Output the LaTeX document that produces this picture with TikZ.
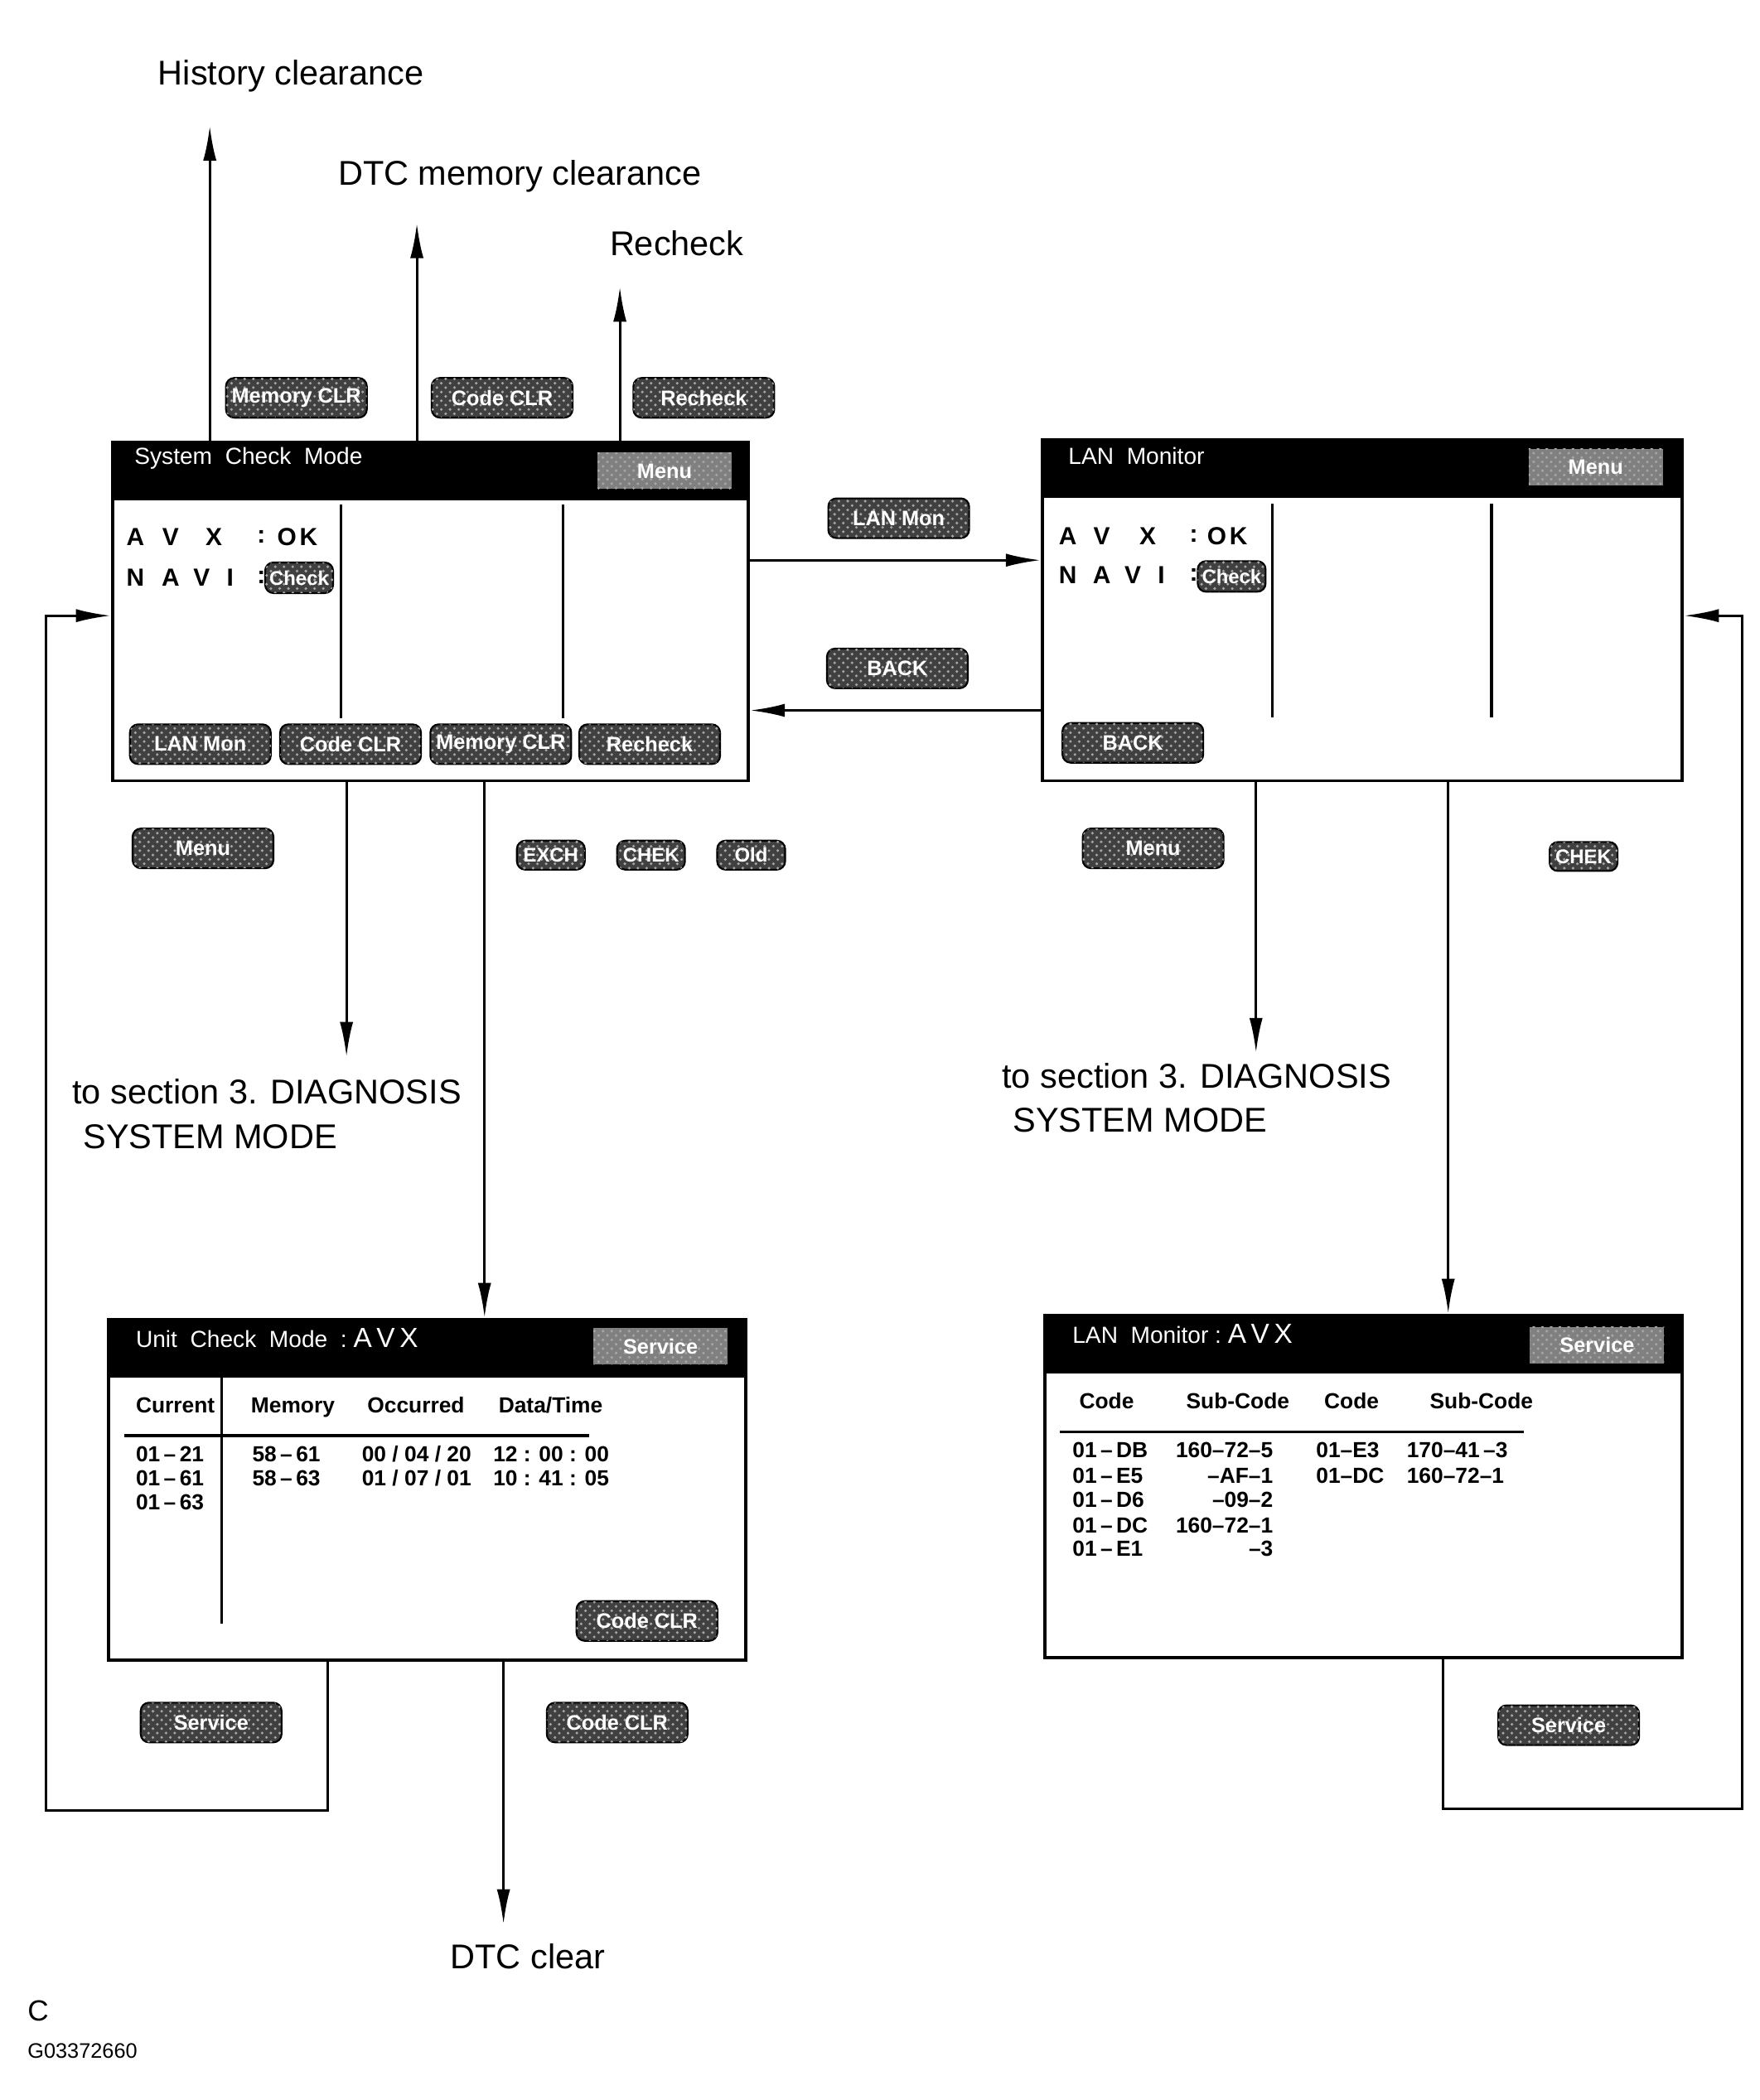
\documentclass[tikz,border=0pt]{standalone}
\usepackage{fontspec}
\setmainfont{Liberation Sans}
\usetikzlibrary{arrows.meta,fit,patterns}

\tikzset{
  screen/.style={draw, line width=1.1pt, inner sep=0pt},
  header/.style={fill=black, inner sep=0pt},
  btn/.style={draw, line width=0.6pt, rounded corners=1mm, fill=black!75,
    postaction={pattern=crosshatch dots, pattern color=black!35},
    text=white, font=\fontsize{7.2}{8}\selectfont\bfseries,
    minimum width=17mm, minimum height=4.8mm, inner sep=0pt},
  smallbtn/.style={btn, minimum width=8.2mm, minimum height=3.5mm,
    font=\fontsize{6.8}{8}\selectfont\bfseries},
  hdrbtn/.style={btn, rounded corners=0pt, draw=none, fill=black!50,
    minimum width=16.2mm, minimum height=4.4mm},
  bigtext/.style={font=\fontsize{11.8}{14}\selectfont, inner sep=0pt},
  title/.style={text=white, font=\fontsize{8}{9}\selectfont, inner sep=0pt, anchor=west},
  scrletter/.style={font=\fontsize{8.5}{10}\selectfont\bfseries, inner sep=0pt},
  tabtext/.style={font=\fontsize{7.5}{9}\selectfont\bfseries, inner sep=0pt, anchor=base west},
  arr/.style={line width=0.9pt, -{Latex[length=4.2mm,width=1.6mm]}},
  rule/.style={line width=0.9pt},
}

\begin{document}
\begin{tikzpicture}[x=0.1633mm, y=-0.1633mm]
            \useasboundingbox (0,0) rectangle (1300,1552);

            % System Check Mode screen
            \node[screen, fit={(83,327) (553,577)}] (scm) {};
            \node[header, fit={(83,327) (553,370)}] (scmhead) {};
            \node[title] (scmtitle) at (99,339) {System\ \ Check\ \ Mode};
            \node[hdrbtn] (scmmenu) at (491,348) {Menu};
            \draw[rule] (252,373) -- (252,531);
            \draw[rule] (416,373) -- (416,531);
            \foreach \ch/\x in {A/100,V/126,X/158,:/193,O/212,K/228}
                \node[scrletter] (scmavx\x) at (\x,397) {\ch};
            \foreach \ch/\x in {N/100,A/126,V/149,I/170,:/193}
                \node[scrletter] (scmnavi\x) at (\x,427) {\ch};
            \node[smallbtn, minimum height=3.7mm] (scmcheck) at (221,427) {Check};
            \node[btn] (scmlan) at (148,550) {LAN Mon};
            \node[btn] (scmcode) at (259,550) {Code CLR};
            \node[btn] (scmmem) at (370,550) {Memory CLR};
            \node[btn] (scmre) at (480,550) {Recheck};

            % LAN Monitor screen
            \node[screen, fit={(770,325) (1243,577)}] (lan) {};
            \node[header, fit={(770,325) (1243,368)}] (lanhead) {};
            \node[title] (lantitle) at (789,337) {LAN\ \ Monitor};
            \node[hdrbtn] (lanmenu) at (1179,345) {Menu};
            \draw[rule] (940,372) -- (940,530);
            \draw[rule] (1102,372) -- (1102,530);
            \foreach \ch/\x in {A/789,V/814,X/848,:/882,O/899,K/915}
                \node[scrletter] (lanavx\x) at (\x,396) {\ch};
            \foreach \ch/\x in {N/789,A/814,V/837,I/858,:/882}
                \node[scrletter] (lannavi\x) at (\x,425) {\ch};
            \node[smallbtn, minimum height=3.7mm] (lancheck) at (910,426) {Check};
            \node[btn] (lanback) at (837,549) {BACK};

            % Unit Check Mode screen
            \node[screen, fit={(80,975) (551,1227)}] (ucm) {};
            \node[header, fit={(80,975) (551,1018)}] (ucmhead) {};
            \node[title] (ucmtitle) at (100,989) {Unit\ \ Check\ \ Mode\ \ :\ {\fontsize{9.5}{11}\selectfont A\,V\,X}};
            \node[hdrbtn] (ucmserv) at (488,995) {Service};
            \draw[rule] (164,1018) -- (164,1200);
            \draw[rule] (92,1061) -- (435,1061);
            \node[tabtext] (ucmh1) at (100,1044) {Current};
            \node[tabtext] (ucmh2) at (185,1044) {Memory};
            \node[tabtext] (ucmh3) at (271,1044) {Occurred};
            \node[tabtext] (ucmh4) at (368,1044) {Data/Time};
            \node[tabtext] (ucmr1a) at (100,1080) {01\,–\,21};
            \node[tabtext] (ucmr2a) at (100,1098) {01\,–\,61};
            \node[tabtext] (ucmr3a) at (100,1116) {01\,–\,63};
            \node[tabtext] (ucmr1b) at (186,1080) {58\,–\,61};
            \node[tabtext] (ucmr2b) at (186,1098) {58\,–\,63};
            \node[tabtext] (ucmr1c) at (267,1080) {00 / 04 / 20};
            \node[tabtext] (ucmr2c) at (267,1098) {01 / 07 / 01};
            \node[tabtext] (ucmr1d) at (364,1080) {12 : 00 : 00};
            \node[tabtext] (ucmr2d) at (364,1098) {10 : 41 : 05};
            \node[btn] (ucmcode) at (478,1198) {Code CLR};

            % LAN Monitor : AVX screen
            \node[screen, fit={(772,972) (1243,1225)}] (lavx) {};
            \node[header, fit={(772,972) (1243,1015)}] (lavxhead) {};
            \node[title] (lavxtitle) at (792,986) {LAN\ \ Monitor\ :\ {\fontsize{9.5}{11}\selectfont A\,V\,X}};
            \node[hdrbtn] (lavxserv) at (1180,994) {Service};
            \draw[rule] (783,1058) -- (1126,1058);
            \node[tabtext] (lavxh1) at (797,1041) {Code};
            \node[tabtext] (lavxh2) at (876,1041) {Sub-Code};
            \node[tabtext] (lavxh3) at (978,1041) {Code};
            \node[tabtext] (lavxh4) at (1056,1041) {Sub-Code};
            \node[tabtext] (lavxr1a) at (792,1077) {01\,–\,DB};
            \node[tabtext] (lavxr2a) at (792,1096) {01\,–\,E5};
            \node[tabtext] (lavxr3a) at (792,1114) {01\,–\,D6};
            \node[tabtext] (lavxr4a) at (792,1133) {01\,–\,DC};
            \node[tabtext] (lavxr5a) at (792,1150) {01\,–\,E1};
            \node[tabtext, anchor=base east] (lavxr1b) at (941,1077) {160–72–5};
            \node[tabtext, anchor=base east] (lavxr2b) at (941,1096) {–AF–1};
            \node[tabtext, anchor=base east] (lavxr3b) at (941,1114) {–09–2};
            \node[tabtext, anchor=base east] (lavxr4b) at (941,1133) {160–72–1};
            \node[tabtext, anchor=base east] (lavxr5b) at (941,1150) {–3};
            \node[tabtext] (lavxr1c) at (972,1077) {01–E3};
            \node[tabtext] (lavxr2c) at (972,1096) {01–DC};
            \node[tabtext] (lavxr1d) at (1039,1077) {170–41\,–3};
            \node[tabtext] (lavxr2d) at (1039,1096) {160–72–1};

            % Labels at the arrow ends
            \node[bigtext] (hist) at (215,56) {History clearance};
            \node[bigtext] (dtcmem) at (384,130) {DTC memory clearance};
            \node[bigtext] (recheck) at (500,180) {Recheck};
            \node[bigtext, anchor=west] (diag1) at (53,807) {to section 3. DIAGNOSIS};
            \node[bigtext, anchor=west] (diag1b) at (61,840) {SYSTEM MODE};
            \node[bigtext, anchor=west] (diag2) at (740,795) {to section 3. DIAGNOSIS};
            \node[bigtext, anchor=west] (diag2b) at (748,828) {SYSTEM MODE};
            \node[bigtext] (dtcclr) at (390,1446) {DTC clear};

            % Arrow ends and corners
            \coordinate (histtip) at (155,93);
            \coordinate (memtip) at (308,165);
            \coordinate (retip) at (458,212);
            \coordinate (lmrow) at (660,414);
            \coordinate (bkrow) at (660,525);
            \coordinate (d1tip) at (256,781);
            \coordinate (d2tip) at (928,778);
            \coordinate (ucmcol) at (358,700);
            \coordinate (lavxcol) at (1070,700);
            \coordinate (clrtip) at (372,1422);
            \coordinate (lpa) at (242,1338);
            \coordinate (lpb) at (34,1338);
            \coordinate (lpc) at (34,455);
            \coordinate (rpa) at (1066,1337);
            \coordinate (rpb) at (1287,1337);
            \coordinate (rpc) at (1287,455);

            % Draw the arrows out of System Check Mode
            \draw[arr] (scm.north -| histtip) -- (histtip);
            \draw[arr] (scm.north -| memtip) -- (memtip);
            \draw[arr] (scm.north -| retip) -- (retip);
            \draw[arr] (scm.east |- lmrow) -- (lan.west |- lmrow);
            \draw[arr] (lan.west |- bkrow) -- (scm.east |- bkrow);
            \draw[arr] (scm.south -| d1tip) -- (d1tip);
            \draw[arr] (scm.south -| ucmcol) -- (ucm.north -| ucmcol);

            % Draw the arrows out of LAN Monitor
            \draw[arr] (lan.south -| d2tip) -- (d2tip);
            \draw[arr] (lan.south -| lavxcol) -- (lavx.north -| lavxcol);

            % Draw the clear arrow and the two loops back
            \draw[arr] (ucm.south -| clrtip) -- (clrtip);
            \draw[arr] (ucm.south -| lpa) -- (lpa) -- (lpb) -- (lpc) -- (scm.west |- lpc);
            \draw[arr] (lavx.south -| rpa) -- (rpa) -- (rpb) -- (rpc) -- (lan.east |- rpc);

            % Buttons along the arrows
            \node[btn] (bmem) at (219,294) {Memory CLR};
            \node[btn] (bcode) at (371,294) {Code CLR};
            \node[btn] (bre) at (520,294) {Recheck};
            \node[btn] (blan) at (664,383) {LAN Mon};
            \node[btn] (bback) at (663,494) {BACK};
            \node[btn] (bmenu1) at (150,627) {Menu};
            \node[smallbtn] (bexch) at (407,632) {EXCH};
            \node[smallbtn] (bchek1) at (481,632) {CHEK};
            \node[smallbtn] (bold) at (555,632) {Old};
            \node[btn] (bmenu2) at (852,627) {Menu};
            \node[smallbtn] (bchek2) at (1170,633) {CHEK};
            \node[btn] (bserv1) at (156,1273) {Service};
            \node[btn] (bcode2) at (456,1273) {Code CLR};
            \node[btn] (bserv2) at (1159,1275) {Service};

            % Figure code
            \node[anchor=west, inner sep=0pt, font=\fontsize{10}{12}\selectfont] (fig) at (20,1486) {C};
            \node[anchor=west, inner sep=0pt, font=\fontsize{7.2}{9}\selectfont] (figno) at (20,1516) {G03372660};
\end{tikzpicture}
\end{document}
